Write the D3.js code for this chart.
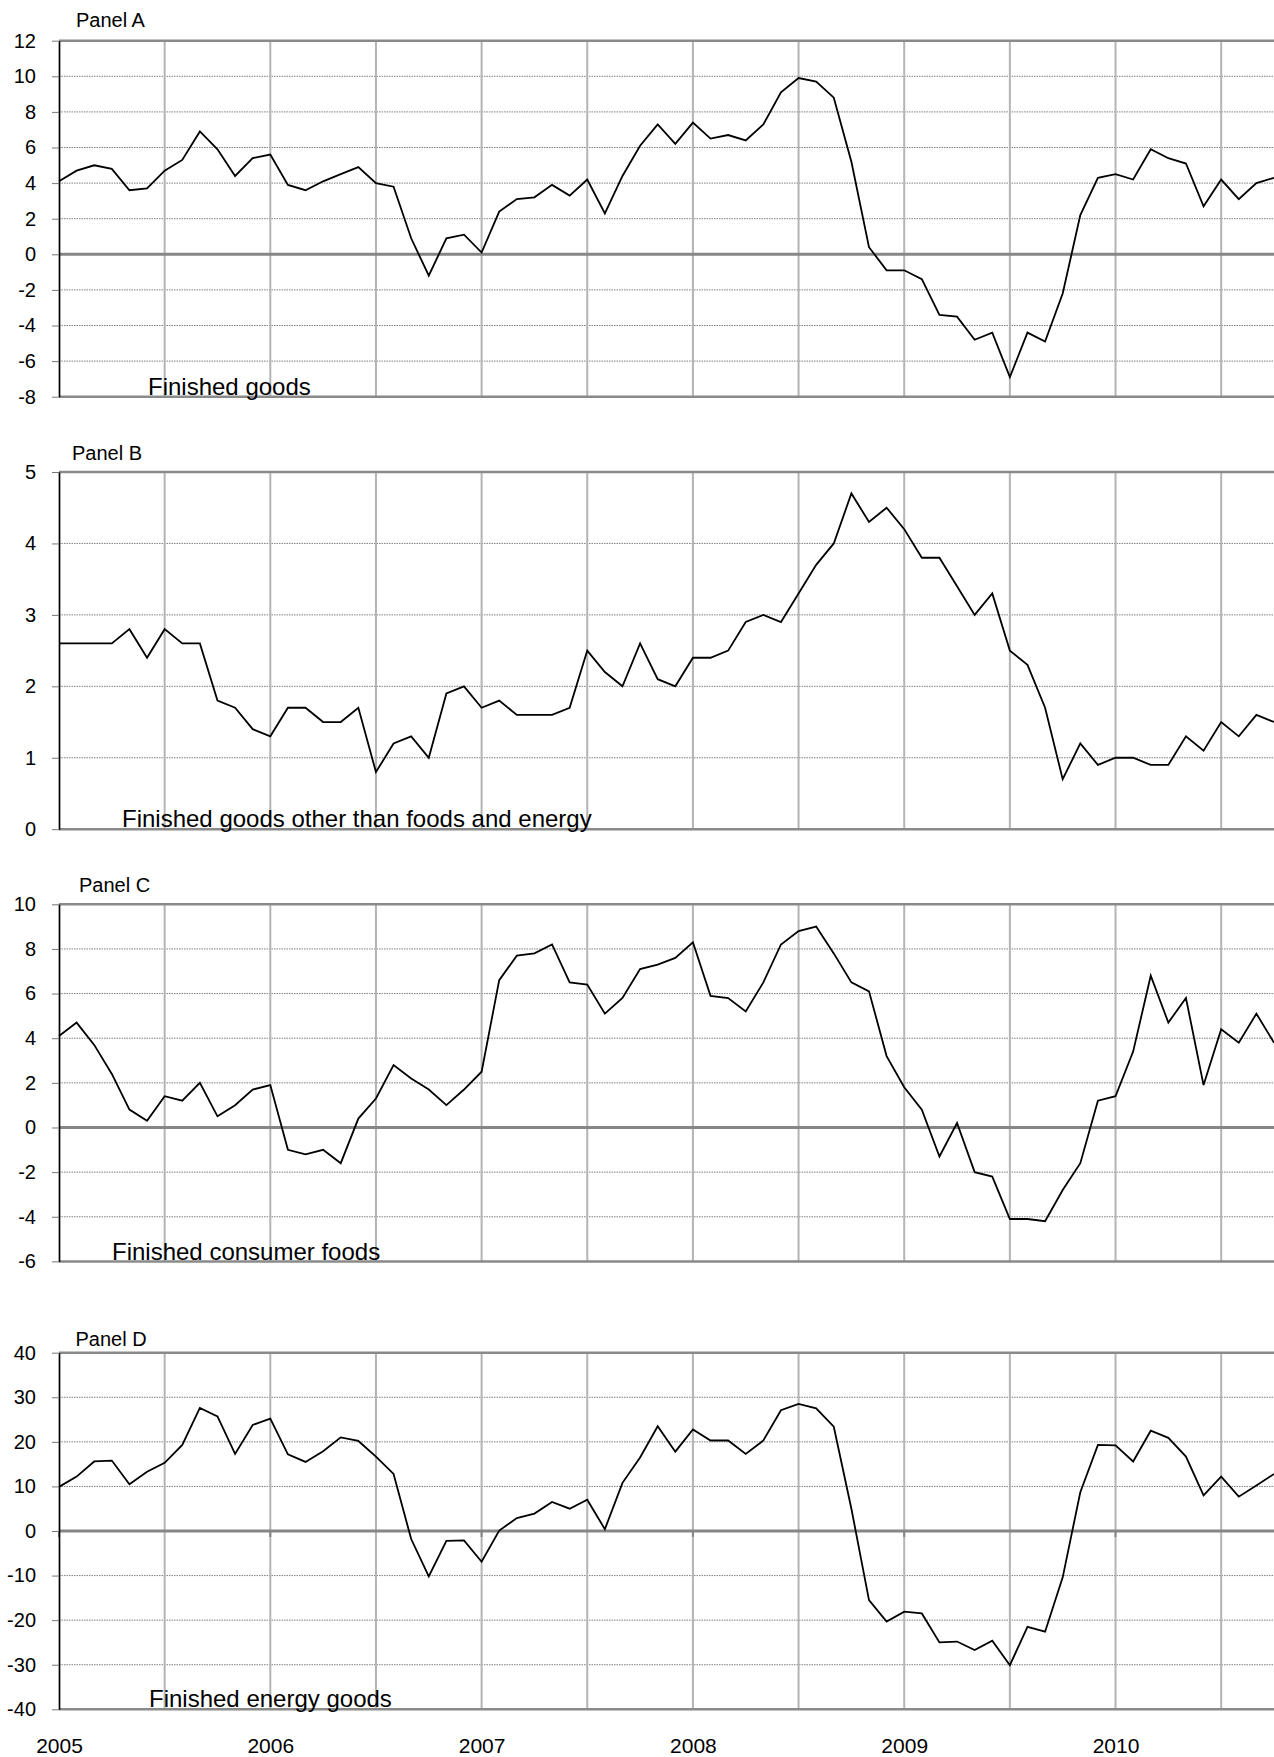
<!DOCTYPE html>
<html>
<head>
<meta charset="utf-8">
<script src="https://cdn.jsdelivr.net/npm/d3@7"></script>
<style>
  body { margin: 0; background: #fff; }
  svg { display: block; font-family: "Liberation Sans", Arial, sans-serif; }
</style>
</head>
<body>
<svg id="chart" width="1274" height="1757"></svg>
<script>
// monthly values, Jan 2005 onwards
var panelAValues = [4.1,4.7,5.0,4.8,3.6,3.7,4.7,5.3,6.9,5.9,
                    4.4,5.4,5.6,3.9,3.6,4.1,4.5,4.9,4.0,3.8,
                    0.9,-1.2,0.9,1.1,0.1,2.4,3.1,3.2,3.9,3.3,
                    4.2,2.3,4.4,6.1,7.3,6.2,7.4,6.5,6.7,6.4,
                    7.3,9.1,9.9,9.7,8.8,5.2,0.4,-0.9,-0.9,-1.4,
                    -3.4,-3.5,-4.8,-4.4,-6.9,-4.4,-4.9,-2.2,2.2,4.3,
                    4.5,4.2,5.9,5.4,5.1,2.7,4.2,3.1,4.0,4.3];
var panelBValues = [2.6,2.6,2.6,2.6,2.8,2.4,2.8,2.6,2.6,1.8,
                    1.7,1.4,1.3,1.7,1.7,1.5,1.5,1.7,0.8,1.2,
                    1.3,1.0,1.9,2.0,1.7,1.8,1.6,1.6,1.6,1.7,
                    2.5,2.2,2.0,2.6,2.1,2.0,2.4,2.4,2.5,2.9,
                    3.0,2.9,3.3,3.7,4.0,4.7,4.3,4.5,4.2,3.8,
                    3.8,3.4,3.0,3.3,2.5,2.3,1.7,0.7,1.2,0.9,
                    1.0,1.0,0.9,0.9,1.3,1.1,1.5,1.3,1.6,1.5];
var panelCValues = [4.1,4.7,3.7,2.4,0.8,0.3,1.4,1.2,2.0,0.5,
                    1.0,1.7,1.9,-1.0,-1.2,-1.0,-1.6,0.4,1.3,2.8,
                    2.2,1.7,1.0,1.7,2.5,6.6,7.7,7.8,8.2,6.5,
                    6.4,5.1,5.8,7.1,7.3,7.6,8.3,5.9,5.8,5.2,
                    6.5,8.2,8.8,9.0,7.8,6.5,6.1,3.2,1.8,0.8,
                    -1.3,0.2,-2.0,-2.2,-4.1,-4.1,-4.2,-2.8,-1.6,1.2,
                    1.4,3.4,6.8,4.7,5.8,1.9,4.4,3.8,5.1,3.8];
var panelDValues = [9.9,12.2,15.6,15.8,10.5,13.3,15.3,19.3,27.6,25.7,
                    17.3,23.8,25.2,17.2,15.5,17.9,21.0,20.2,16.7,12.8,
                    -1.8,-10.2,-2.2,-2.1,-6.9,0.1,2.9,3.9,6.5,5.0,
                    7.0,0.4,10.8,16.5,23.5,17.8,22.8,20.3,20.3,17.3,
                    20.3,27.1,28.5,27.5,23.4,5.0,-15.5,-20.3,-18.1,-18.5,
                    -25.0,-24.8,-26.7,-24.6,-30.1,-21.5,-22.6,-10.4,8.7,19.3,
                    19.2,15.6,22.5,20.9,16.7,8.0,12.2,7.7,10.2,12.8];

var panelATicks = [-8,-6,-4,-2,0,2,4,6,8,10,12];
var panelBTicks = [0,1,2,3,4,5];
var panelCTicks = [-6,-4,-2,0,2,4,6,8,10];
var panelDTicks = [-40,-30,-20,-10,0,10,20,30,40];

var panelTitles = ["Panel A","Panel B","Panel C","Panel D"];
var seriesNames = ["Finished goods",
                   "Finished goods other than foods and energy",
                   "Finished consumer foods",
                   "Finished energy goods"];
var yearLabels = ["2005","2006","2007","2008","2009","2010"];
var yearIndex = [0,12,24,36,48,60];   // january of each year
var halfYearIndex = [6,12,18,24,30,36,42,48,54,60,66];

var svg = d3.select("#chart");
var left = 59, right = 1274;

var xScale = d3.scaleLinear().domain([0, 69]).range([left, right]);

// layout of the four panels
var panels = [
  { values: panelAValues, ticks: panelATicks, top: 40.7,  bottom: 396.7,  titleX: 76,   titleY: 26.7,   capX: 148, capY: 394.5 },
  { values: panelBValues, ticks: panelBTicks, top: 472,   bottom: 829.2,  titleX: 72,   titleY: 460,    capX: 122, capY: 826.5 },
  { values: panelCValues, ticks: panelCTicks, top: 904.3, bottom: 1261.4, titleX: 79,   titleY: 891.7,  capX: 112, capY: 1259.5 },
  { values: panelDValues, ticks: panelDTicks, top: 1352.7,bottom: 1709.3, titleX: 75.5, titleY: 1345.5, capX: 149, capY: 1706.5 }
];

panels.forEach(function(p, k) {
  var yScale = d3.scaleLinear()
                 .domain(d3.extent(p.ticks))
                 .range([p.bottom, p.top]);
  var g = svg.append("g");

  // dotted horizontal gridlines
  g.selectAll(".hgrid")
   .data(p.ticks.filter(function(t) { return t != 0 && t != d3.min(p.ticks) && t != d3.max(p.ticks); }))
   .enter().append("line")
   .attr("x1", left).attr("x2", right)
   .attr("y1", function(d) { return yScale(d); })
   .attr("y2", function(d) { return yScale(d); })
   .style("stroke", "#808080")
   .style("stroke-width", 1)
   .style("stroke-dasharray", "1.5,1");

  // vertical gridlines every six months
  g.selectAll(".vgrid")
   .data(halfYearIndex)
   .enter().append("line")
   .attr("x1", function(d) { return xScale(d); })
   .attr("x2", function(d) { return xScale(d); })
   .attr("y1", p.top).attr("y2", p.bottom)
   .style("stroke", "#b4b4b4")
   .style("stroke-width", 2);

  // top and bottom borders
  [d3.min(p.ticks), d3.max(p.ticks)].forEach(function(v) {
    g.append("line")
     .attr("x1", left).attr("x2", right)
     .attr("y1", yScale(v)).attr("y2", yScale(v))
     .style("stroke", "#8a8a8a")
     .style("stroke-width", 2.5);
  });

  // zero line
  if (d3.min(p.ticks) < 0) {
    g.append("line")
     .attr("x1", left).attr("x2", right)
     .attr("y1", yScale(0)).attr("y2", yScale(0))
     .style("stroke", "#868686")
     .style("stroke-width", 3);
  }

  // small year ticks on the zero line (panel D only)
  if (k == 3) {
    g.selectAll(".ztick")
     .data(yearIndex)
     .enter().append("line")
     .attr("x1", function(d) { return xScale(d); })
     .attr("x2", function(d) { return xScale(d); })
     .attr("y1", yScale(0)).attr("y2", yScale(0) + 6)
     .style("stroke", "#868686")
     .style("stroke-width", 2);
  }

  // y axis
  var yAxis = d3.axisLeft(yScale)
                .tickValues(p.ticks)
                .tickFormat(function(d) { return String(d); })  // plain hyphen minus
                .tickSize(7)
                .tickSizeOuter(0)
                .tickPadding(16);
  var ax = g.append("g")
            .attr("transform", "translate(" + left + ",0)")
            .call(yAxis);
  ax.select(".domain").style("stroke", "#000").style("stroke-width", 1.7);
  ax.selectAll(".tick line").style("stroke", "#777").style("stroke-width", 1);
  ax.selectAll("text")
    .style("font-size", "20px")
    .style("fill", "#000")
    .style("font-family", "'Liberation Sans', Arial, sans-serif");

  // series line
  var line = d3.line()
               .x(function(d, i) { return xScale(i); })
               .y(function(d) { return yScale(d); });
  g.append("path")
   .datum(p.values)
   .attr("d", line)
   .style("fill", "none")
   .style("stroke", "#000")
   .style("stroke-width", 1.8)
   .style("stroke-linejoin", "miter");

  // panel title
  g.append("text")
   .attr("x", p.titleX).attr("y", p.titleY)
   .style("font-size", "20px")
   .text(panelTitles[k]);

  // series caption
  g.append("text")
   .attr("x", p.capX).attr("y", p.capY)
   .style("font-size", "24px")
   .text(seriesNames[k]);
});

// year labels along the bottom
var xAxis = d3.axisBottom(xScale)
              .tickValues(yearIndex)
              .tickFormat(function(d, i) { return yearLabels[i]; })
              .tickSize(0)
              .tickPadding(0);
var xa = svg.append("g")
            .attr("transform", "translate(0,1737.6)")
            .call(xAxis);
xa.select(".domain").remove();
xa.selectAll("text")
  .style("font-size", "21px")
  .style("fill", "#000")
  .style("font-family", "'Liberation Sans', Arial, sans-serif");
</script>
</body>
</html>
